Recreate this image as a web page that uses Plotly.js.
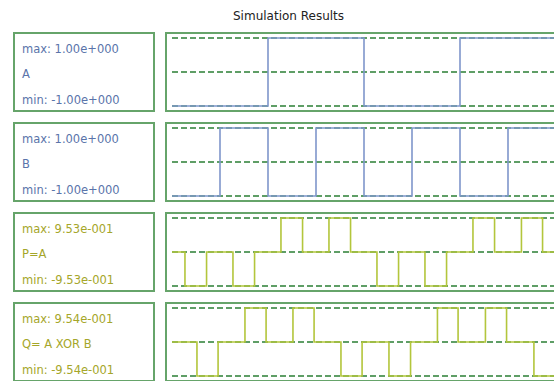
<!DOCTYPE html>
<html>
<head>
<meta charset="utf-8">
<script src="https://cdn.plot.ly/plotly-3.0.1.min.js"></script>
<style>html,body{margin:0;padding:0;background:#fff;}#chart{width:554px;height:381px;}</style>
</head>
<body>
<div id="chart"></div>
<script>
// ---- data ----
const signalNames = ["A", "B", "P=A", "Q= A XOR B"];
const maxLabels = ["max: 1.00e+000", "max: 1.00e+000", "max: 9.53e-001", "max: 9.54e-001"];
const minLabels = ["min: -1.00e+000", "min: -1.00e+000", "min: -9.53e-001", "min: -9.54e-001"];
const maxValues = [1.0, 1.0, 0.953, 0.954];
const minValues = [-1.0, -1.0, -0.953, -0.954];

const aTime = [0, 2, 4, 6, 7.96];
const aVal  = [-1, 1, -1, 1, 1];

const bTime = [0, 1, 2, 3, 4, 5, 6, 7, 7.96];
const bVal  = [-1, 1, -1, 1, -1, 1, -1, 1, 1];

const pTime = [0, 0.27, 0.72, 1.27, 1.72, 2.27, 2.72, 3.27, 3.72, 4.27, 4.72, 5.27, 5.72, 6.27, 6.72, 7.28, 7.72, 7.96];
const pVal  = [0, -0.953, 0, -0.953, 0, 0.953, 0, 0.953, 0, -0.953, 0, -0.953, 0, 0.953, 0, 0.953, 0, 0];

const qTime = [0, 0.52, 0.96, 1.52, 1.96, 2.52, 2.96, 3.52, 3.96, 4.52, 4.97, 5.53, 5.96, 6.53, 6.97, 7.54, 7.96];
const qVal  = [0, -0.954, 0, 0.954, 0, 0.954, 0, -0.954, 0, -0.954, 0, 0.954, 0, 0.954, 0, -0.954, -0.954];

const signalTimes = [aTime, bTime, pTime, qTime];
const signalVals = [aVal, bVal, pVal, qVal];

// ---- styling / layout ----
const W = 554, H = 381;
const px = v => v / W;
const py = v => 1 - v / H;
const rowTops = [33, 123, 213, 303];
const rowH = 78;
const textColors = ["#5a74aa", "#5a74aa", "#a5a62a", "#a5a62a"];
const lineColors = ["#7f96cb", "#7f96cb", "#b3c63c", "#b3c63c"];
const boxColor = "#66a46a";
const gridColor = "#5f9e66";
const plotLeft = 172;
const pxPerUnit = 48;

const traces = [];
const layout = {
  width: W, height: H,
  margin: {l: 0, r: 0, t: 0, b: 0},
  paper_bgcolor: "#ffffff",
  plot_bgcolor: "rgba(0,0,0,0)",
  showlegend: false,
  font: {family: "DejaVu Sans, sans-serif", size: 11},
  shapes: [],
  annotations: [{
    text: "Simulation Results", xref: "paper", yref: "paper",
    x: px(288), y: py(16), xanchor: "center", yanchor: "middle",
    showarrow: false, font: {family: "DejaVu Sans, sans-serif", size: 12, color: "#222"}
  }]
};

for (let i = 0; i < 4; i++) {
  const top = rowTops[i];
  const n = i + 1;
  const sfx = n === 1 ? "" : String(n);
  const amp = maxValues[i] - minValues[i];
  const dTop = top + 2, dBot = top + 76;
  const lineTop = top + 5, lineBot = top + 73;
  const unitPerPx = amp / (lineBot - lineTop);
  layout["xaxis" + sfx] = {
    domain: [px(plotLeft), 1],
    range: [0, (W - plotLeft) / pxPerUnit],
    showgrid: false, zeroline: false, showticklabels: false, ticks: "",
    anchor: "y" + sfx, fixedrange: true
  };
  layout["yaxis" + sfx] = {
    domain: [py(dBot), py(dTop)],
    range: [minValues[i] - (dBot - lineBot) * unitPerPx,
            maxValues[i] + (lineTop - dTop) * unitPerPx],
    tickmode: "array",
    tickvals: [minValues[i], 0, maxValues[i]],
    showgrid: true, gridcolor: gridColor, gridwidth: 1.6, griddash: "6px,3px",
    zeroline: false, showticklabels: false, ticks: "",
    anchor: "x" + sfx, fixedrange: true
  };
  traces.push({
    type: "scatter", mode: "lines",
    x: signalTimes[i], y: signalVals[i],
    xaxis: "x" + sfx, yaxis: "y" + sfx,
    line: {color: lineColors[i], width: 1.6, shape: "hv"},
    hoverinfo: "skip", cliponaxis: false
  });
  // label box
  layout.shapes.push({
    type: "rect", xref: "paper", yref: "paper", layer: "above",
    x0: px(14), x1: px(154), y0: py(top + rowH), y1: py(top),
    line: {color: boxColor, width: 2}, fillcolor: "rgba(0,0,0,0)"
  });
  // panel box
  layout.shapes.push({
    type: "rect", xref: "paper", yref: "paper", layer: "above",
    x0: px(166), x1: px(W + 20), y0: py(top + rowH), y1: py(top),
    line: {color: boxColor, width: 2}, fillcolor: "rgba(0,0,0,0)"
  });
  const labels = [maxLabels[i], signalNames[i], minLabels[i]];
  const offs = [16, 41, 67];
  for (let k = 0; k < 3; k++) {
    layout.annotations.push({
      text: labels[k], xref: "paper", yref: "paper",
      x: px(20), y: py(top + offs[k]), xanchor: "left", yanchor: "middle",
      showarrow: false, font: {family: "DejaVu Sans, sans-serif", size: 11.5, color: textColors[i]}
    });
  }
}

Plotly.newPlot("chart", traces, layout, {staticPlot: true, displayModeBar: false});
</script>
</body>
</html>
